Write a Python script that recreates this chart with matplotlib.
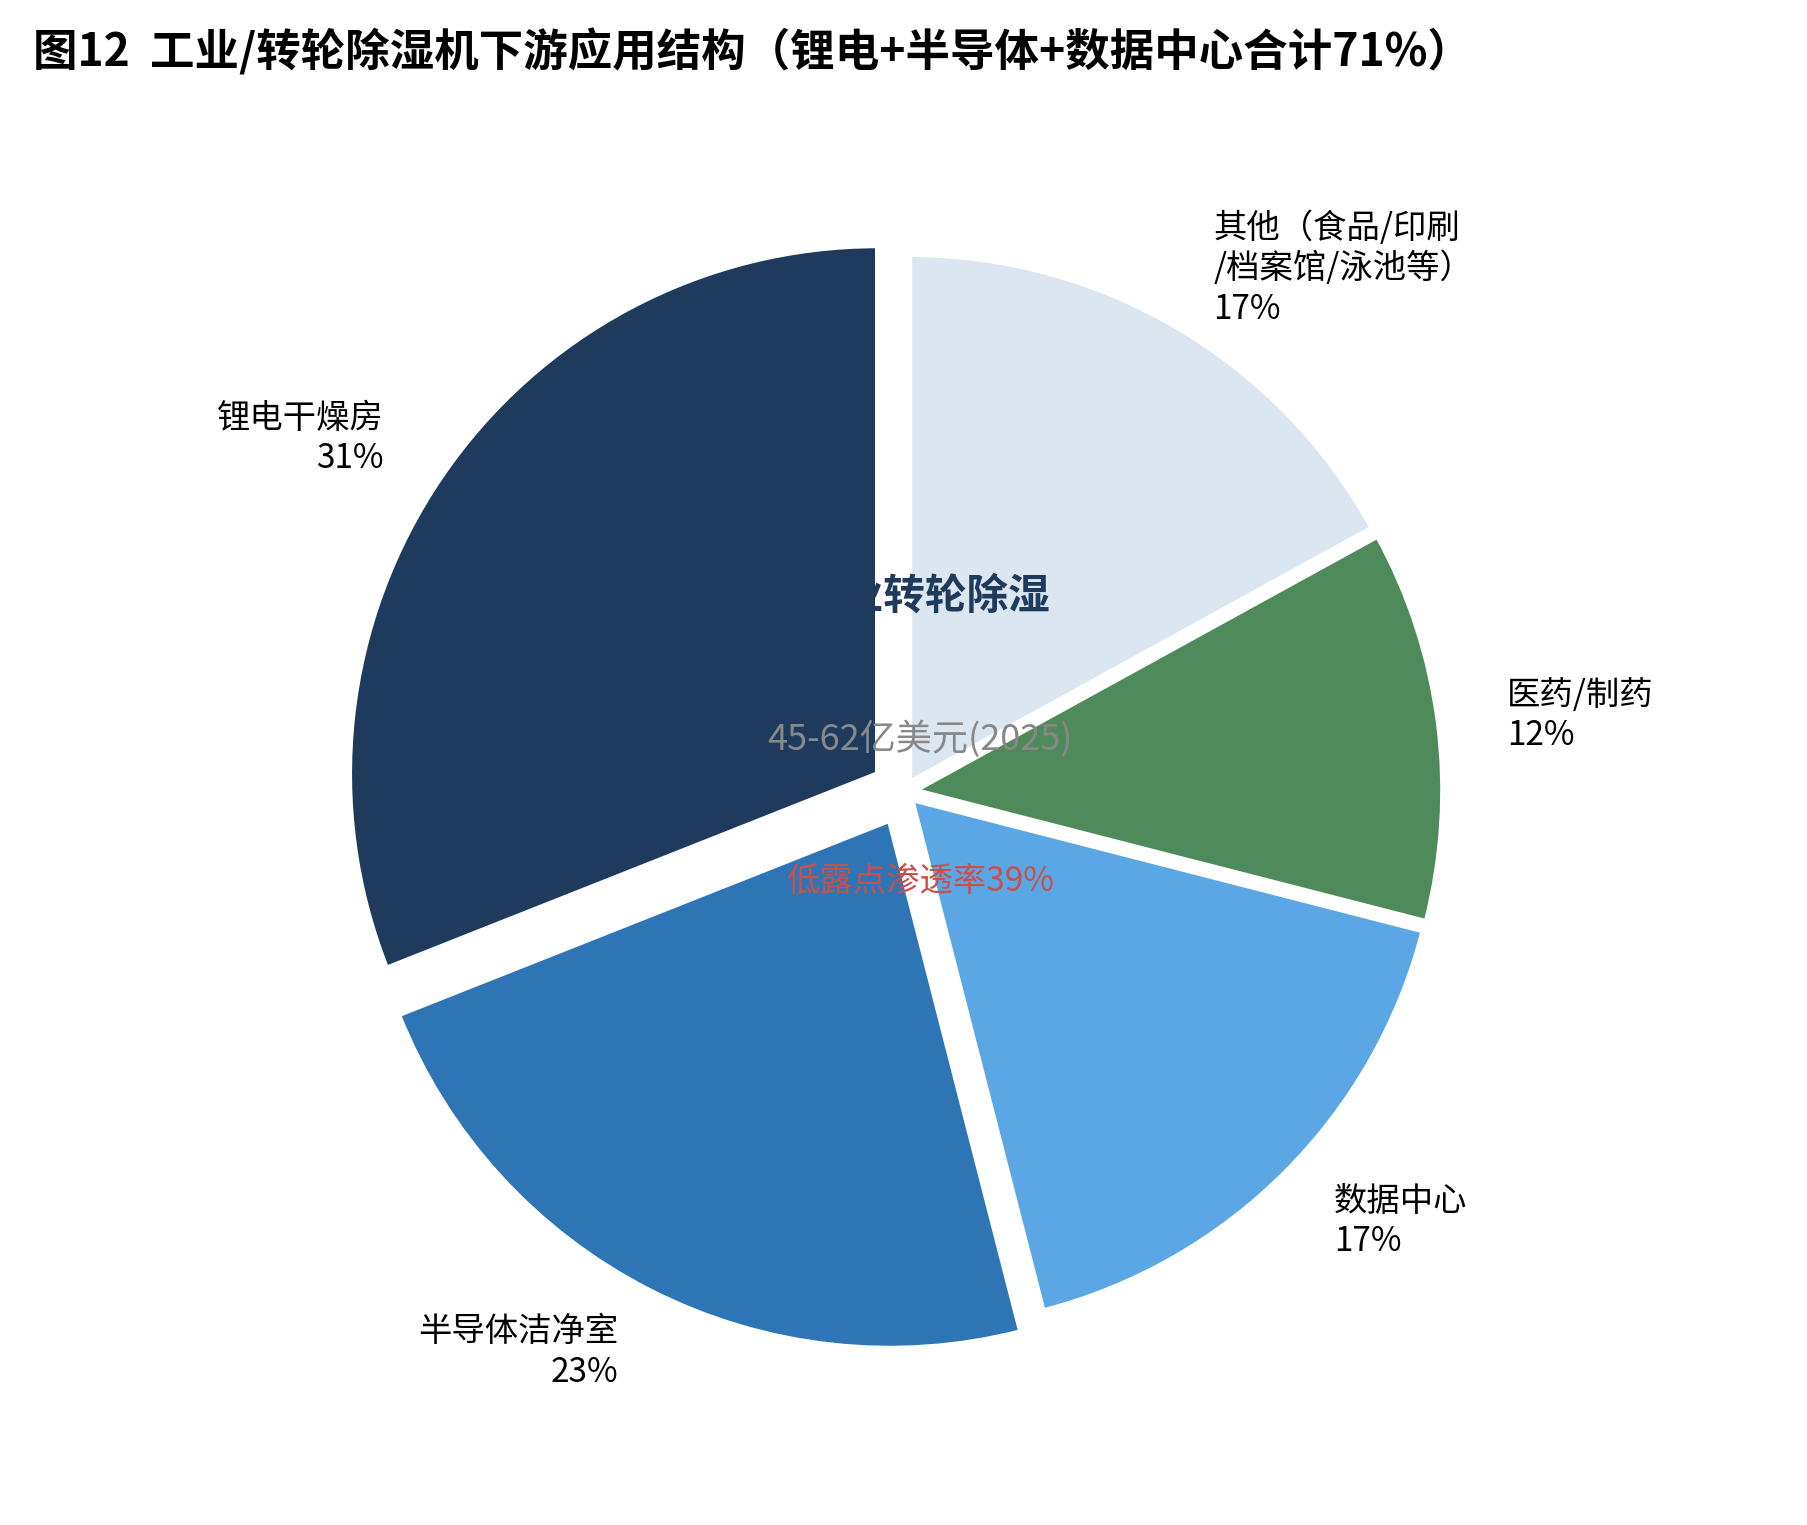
import matplotlib
matplotlib.use("Agg")
import matplotlib.pyplot as plt

plt.rcParams['font.family'] = ['Noto Sans CJK SC', 'DejaVu Sans']

labels = ["锂电干燥房", "半导体洁净室", "数据中心", "医药/制药", "其他（食品/印刷\n/档案馆/泳池等）"]
values = [31, 23, 17, 12, 17]
colors = ["#1e3a5c", "#2e75b6", "#5ba7e5", "#4f8a5b", "#dce6f1"]
explode = [0.06, 0.06, 0.02, 0.02, 0.02]

fig = plt.figure(figsize=(18.08, 15.25), dpi=100)
ax = fig.add_axes([0.12, 0.05, 0.76, 0.82])
fig.text(0.018, 0.965, "图12  工业/转轮除湿机下游应用结构（锂电+半导体+数据中心合计71%）",
         ha="left", va="center", fontsize=32, fontweight="bold")

wedges, texts = ax.pie(values, explode=explode, colors=colors, startangle=90,
                       counterclock=True, labels=[f"{l}\n{v}%" for l, v in zip(labels, values)],
                       labeldistance=1.13, wedgeprops=dict(edgecolor="white", linewidth=4),
                       textprops=dict(fontsize=24), radius=1.0)
for t in texts:
    x, y = t.get_position()
    t.set_ha("right" if x < 0 else "left")
ax.text(0.04, 0.37, "工业转轮除湿", ha="center", va="center", fontsize=30,
        fontweight="bold", color="#1e3a5c", zorder=5)
ax.text(0.03, 0.1, "45-62亿美元(2025)", ha="center", va="center", fontsize=26,
        color="#888888", zorder=5)
ax.text(0.03, -0.17, "低露点渗透率39%", ha="center", va="center", fontsize=24,
        color="#c9504a", zorder=5)
ax.set_xlim(-1.3, 1.3)
ax.set_ylim(-1.22, 1.1)
ax.set_aspect("equal")
fig.savefig("out.png", dpi=100, facecolor="white")
